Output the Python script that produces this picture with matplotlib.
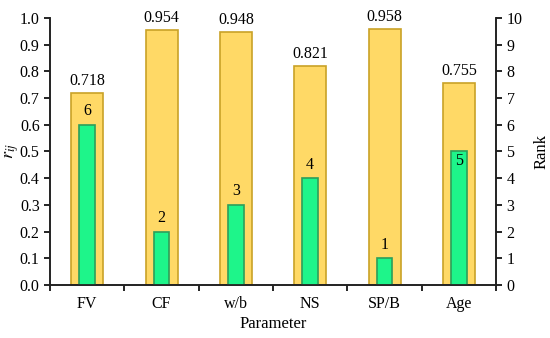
import matplotlib
matplotlib.use("Agg")
import matplotlib.pyplot as plt
import numpy as np

params = ["FV", "CF", "w/b", "NS", "SP/B", "Age"]
rij = [0.718, 0.954, 0.948, 0.821, 0.958, 0.755]
rank = [6, 2, 3, 4, 1, 5]

YELLOW = "#FFD966"
YELLOW_EDGE = "#C9A227"
GREEN = "#1EF58A"
GREEN_EDGE = "#2E9E5B"

plt.rcParams.update({
    "font.family": ["Liberation Serif", "DejaVu Serif"],
    "mathtext.fontset": "stix",
    "font.size": 11.5,
})

fig = plt.figure(figsize=(5.5, 3.38), dpi=100)
ax = fig.add_axes([0.091, 0.157, 0.811, 0.79])
ax2 = ax.twinx()

x = np.arange(len(params))
ax.bar(x, rij, width=0.43, color=YELLOW, edgecolor=YELLOW_EDGE, linewidth=1.2, zorder=1)
for xi, v in zip(x, rij):
    ax.text(xi, v + 0.015, f"{v:.3f}", ha="center", va="bottom")

ax2.bar(x, rank, width=0.21, color=GREEN, edgecolor=GREEN_EDGE, linewidth=1.2, zorder=2)
for xi, r, p in zip(x, rank, params):
    if p == "Age":
        ax2.text(xi, r - 0.05, str(r), ha="center", va="top")
    else:
        ax2.text(xi, r + 0.2, str(r), ha="center", va="bottom")

ax.set_zorder(ax2.get_zorder() - 1)
ax.patch.set_visible(True)
ax2.patch.set_visible(False)

ax.set_xlim(-0.5, len(params) - 0.5)
ax.set_ylim(0, 1.0)
ax2.set_ylim(0, 10)
ax.set_yticks(np.arange(0, 1.01, 0.1))
ax.set_yticklabels([f"{t:.1f}" for t in np.arange(0, 1.01, 0.1)])
ax2.set_yticks(range(0, 11))

ax.set_xticks(x)
ax.set_xticklabels(params)
ax.set_xticks(np.arange(-0.5, len(params), 1), minor=True)
ax.tick_params(axis="x", which="major", length=0, pad=8)
ax.tick_params(axis="x", which="minor", length=4, width=1.2, direction="out")
ax.tick_params(axis="y", length=4, width=1.2, direction="out")
ax2.tick_params(axis="y", length=4, width=1.2, direction="out")

for a in (ax, ax2):
    a.spines["top"].set_visible(False)
    for s in ("left", "right", "bottom"):
        a.spines[s].set_linewidth(1.2)
        a.spines[s].set_color("#222222")

ax.set_ylabel(r"$r_{ij}$", fontsize=13, labelpad=-1)
ax2.set_ylabel("Rank", fontsize=12, labelpad=8)
ax.set_xlabel("Parameter", fontsize=12, labelpad=3)

fig.savefig("out.png", dpi=100)
